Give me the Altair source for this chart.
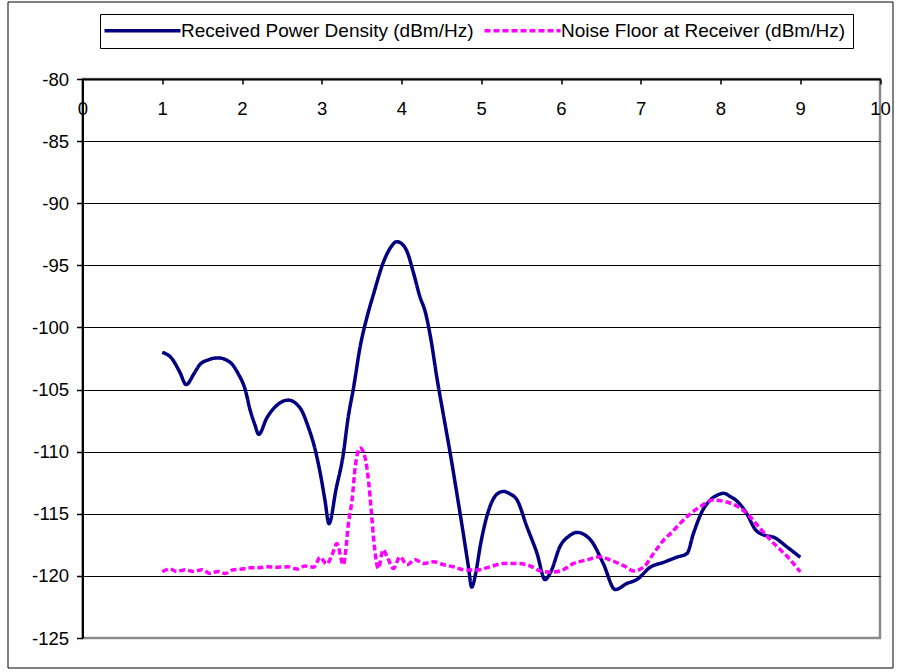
import altair as alt
import pandas as pd

series_names = ["Received Power Density (dBm/Hz)", "Noise Floor at Receiver (dBm/Hz)"]

psd_x = [1.00, 1.12, 1.22, 1.30, 1.40, 1.47, 1.58, 1.70, 1.85, 1.95, 2.04, 2.10, 2.16, 2.21,
         2.31, 2.44, 2.58, 2.73, 2.83, 2.92, 2.98, 3.04, 3.09, 3.18, 3.27, 3.33, 3.40, 3.48,
         3.57, 3.65, 3.77, 3.86, 3.94, 4.01, 4.07, 4.15, 4.23, 4.30, 4.37, 4.44, 4.53, 4.61,
         4.70, 4.78, 4.84, 4.88, 4.93, 4.99, 5.11, 5.20, 5.28, 5.36, 5.45, 5.57, 5.70, 5.80,
         5.87, 5.99, 6.10, 6.20, 6.37, 6.53, 6.68, 6.83, 6.95, 7.12, 7.29, 7.45, 7.58, 7.66,
         7.77, 7.87, 7.96, 8.04, 8.12, 8.21, 8.33, 8.44, 8.54, 8.67, 8.84, 9.00]
psd_y = [-102.0, -102.5, -103.6, -104.6, -103.7, -103.0, -102.6, -102.45, -102.8, -103.7,
         -105.0, -106.6, -107.8, -108.6, -107.3, -106.25, -105.85, -106.5, -108.0, -109.9,
         -111.7, -113.9, -115.8, -113.0, -110.2, -107.3, -104.8, -101.6, -99.1, -97.3, -94.8,
         -93.6, -93.1, -93.3, -93.9, -95.6, -97.5, -98.8, -101.0, -103.9, -107.2, -110.1,
         -113.6, -116.8, -119.3, -120.9, -119.8, -117.5, -114.4, -113.4, -113.2, -113.4,
         -113.9, -116.0, -118.2, -120.3, -119.7, -117.6, -116.8, -116.5, -117.1, -119.0,
         -121.1, -120.6, -120.3, -119.3, -118.9, -118.5, -118.2, -116.6, -114.8, -113.9,
         -113.5, -113.35, -113.6, -114.0, -115.0, -116.3, -116.7, -116.9, -117.7, -118.5]

noise_x = [1.00, 1.10, 1.18, 1.29, 1.39, 1.50, 1.60, 1.70, 1.79, 1.89, 2.00, 2.10, 2.21, 2.31,
           2.44, 2.58, 2.69, 2.79, 2.90, 2.98, 3.06, 3.13, 3.19, 3.27, 3.34, 3.38, 3.42, 3.48,
           3.54, 3.59, 3.62, 3.66, 3.71, 3.77, 3.82, 3.90, 3.98, 4.07, 4.17, 4.28, 4.40, 4.53,
           4.65, 4.80, 4.95, 5.11, 5.28, 5.45, 5.61, 5.74, 5.87, 5.99, 6.16, 6.33, 6.49, 6.62,
           6.79, 6.91, 7.04, 7.16, 7.29, 7.37, 7.58, 7.75, 7.91, 8.04, 8.21, 8.33, 8.50, 8.67,
           8.84, 9.00]
noise_y = [-119.65, -119.45, -119.65, -119.5, -119.65, -119.5, -119.8, -119.65, -119.8, -119.5,
           -119.45, -119.35, -119.35, -119.27, -119.3, -119.27, -119.45, -119.2, -119.3, -118.5,
           -119.05, -118.3, -117.4, -119.1, -115.5, -113.9, -111.2, -109.7, -110.4, -112.55,
           -114.7, -117.65, -119.4, -117.9, -118.46, -119.4, -118.46, -119.1, -118.7, -119.0,
           -118.86, -119.1, -119.27, -119.53, -119.53, -119.27, -119.0, -119.0, -119.19, -119.6,
           -119.7, -119.6, -119.0, -118.7, -118.46, -118.73, -119.2, -119.6, -119.27, -118.2,
           -117.1, -116.6, -115.24, -114.4, -113.9, -114.0, -114.4, -114.97, -116.2, -117.4,
           -118.46, -119.67]

x_ticks = list(range(0, 11))
y_ticks = list(range(-125, -79, 5))
colors = ["#000080", "#FF00FF"]
dashes = [[1, 0], [6, 3]]

df = pd.concat([
    pd.DataFrame({"x": psd_x, "y": psd_y, "series": series_names[0]}),
    pd.DataFrame({"x": noise_x, "y": noise_y, "series": series_names[1]}),
], ignore_index=True)

W, H = 797.5, 559
FONT = "Liberation Sans"

legend = alt.Legend(
    title=None, orient="none", legendX=17.5, legendY=-65, direction="horizontal",
    strokeColor="black", fillColor="white", padding=7, cornerRadius=0,
    labelFont=FONT, labelFontSize=19, labelColor="black", labelLimit=0,
    symbolType="M-38,0H38", symbolSize=4, symbolStrokeWidth=3.5,
    symbolOffset=26, labelOffset=29, columnPadding=3,
)

lines = alt.Chart(df).mark_line(interpolate="monotone", strokeWidth=3.5).encode(
    x=alt.X("x:Q", title=None,
            scale=alt.Scale(domain=[0, 10], nice=False, zero=False),
            axis=alt.Axis(values=x_ticks, orient="bottom", offset=-H, grid=False,
                          tickSize=5, labelPadding=15, labelFlush=False,
                          labelOverlap=False, labelBound=False)),
    y=alt.Y("y:Q", title=None,
            scale=alt.Scale(domain=[-125, -80], nice=False, zero=False),
            axis=alt.Axis(values=y_ticks, orient="left", grid=True, tickSize=6,
                          labelPadding=8, labelOverlap=False, labelFlush=False,
                          labelExpr="'' + datum.value",
                          gridColor={"condition": {"test": "datum.value === -125",
                                                   "value": "#8a8a8a"},
                                     "value": "black"})),
    color=alt.Color("series:N", scale=alt.Scale(domain=series_names, range=colors),
                    legend=legend),
    strokeDash=alt.StrokeDash("series:N", scale=alt.Scale(domain=series_names, range=dashes),
                              legend=legend),
)

border = alt.Chart(alt.Data(values=[{}])).mark_rect(
    filled=False, stroke="black", strokeWidth=1
).encode(
    x=alt.value(-74.5), x2=alt.value(810.5), y=alt.value(-77), y2=alt.value(589)
)

chart = alt.layer(border, lines).properties(
    width=W, height=H,
    autosize=alt.AutoSizeParams(type="none"),
    padding={"left": 82.5, "top": 79, "right": 19, "bottom": 34},
    background="white",
).configure_view(
    stroke="#8a8a8a", strokeWidth=2.5
).configure_axis(
    labelFont=FONT, labelFontSize=18.5, labelColor="black",
    domainColor="black", domainWidth=2, tickColor="black", tickWidth=1.5,
    gridWidth=1,
)

chart.save("out.html", embed_options={"renderer": "svg", "actions": False})
